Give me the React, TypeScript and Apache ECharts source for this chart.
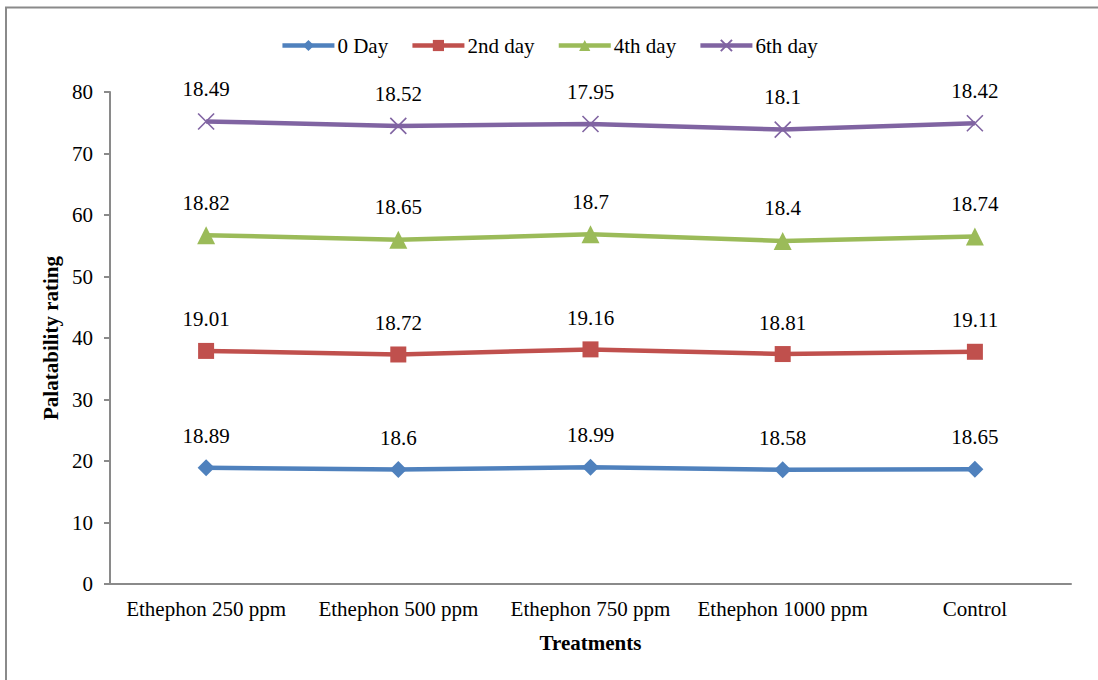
import React, { useEffect, useRef } from "react";
import * as echarts from "echarts";

const treatments = [
  "Ethephon 250 ppm",
  "Ethephon 500 ppm",
  "Ethephon 750 ppm",
  "Ethephon 1000 ppm",
  "Control",
];
const day0 = [18.89, 18.6, 18.99, 18.58, 18.65];
const day2 = [19.01, 18.72, 19.16, 18.81, 19.11];
const day4 = [18.82, 18.65, 18.7, 18.4, 18.74];
const day6 = [18.49, 18.52, 17.95, 18.1, 18.42];
const yTicks = { min: 0, max: 80, interval: 10 };

const FONT = '"Liberation Serif", "Times New Roman", serif';
const FS = 21;
const crossPath = "path://M0,0L10,10M10,0L0,10";

function makeSeries(name: string, data: number[], color: string, symbol: string, symbolSize: number, cross = false) {
  return {
    name,
    type: "line",
    stack: "total",
    data,
    symbol,
    symbolSize,
    showAllSymbol: true,
    lineStyle: { color, width: 4.5 },
    itemStyle: cross
      ? { color: "rgba(0,0,0,0)", borderColor: color, borderWidth: 1.6 }
      : { color, borderColor: color, borderWidth: 0 },
    emphasis: { disabled: true },
    label: {
      show: true,
      position: "top",
      distance: 13,
      color: "#000",
      fontFamily: FONT,
      fontSize: FS,
    },
  };
}

export default function App() {
  const ref = useRef<HTMLDivElement>(null);

  useEffect(() => {
    document.body.style.margin = "0";
    const chart = echarts.init(ref.current!, null, { renderer: "svg" });
    chart.setOption({
      animation: false,
      backgroundColor: "#fff",
      textStyle: { fontFamily: FONT, color: "#000" },
      graphic: [
        {
          type: "rect",
          shape: { x: 6, y: 7.5, width: 1200, height: 800 },
          style: { fill: "none", stroke: "#8a8a8a", lineWidth: 2 },
          silent: true,
        },
      ],
      legend: {
        top: 30,
        left: "center",
        itemWidth: 52,
        itemHeight: 14,
        itemGap: 22,
        lineStyle: { width: 4.5 },
        textStyle: { fontFamily: FONT, fontSize: FS, color: "#000", padding: [0, 0, 0, -2] },
        data: ["0 Day", "2nd day", "4th day", "6th day"],
      },
      grid: { left: 110, right: 27, top: 92, bottom: 96, containLabel: false },
      xAxis: {
        type: "category",
        data: treatments,
        boundaryGap: true,
        name: "Treatments",
        nameLocation: "middle",
        nameGap: 48,
        nameTextStyle: { fontFamily: FONT, fontSize: FS, fontWeight: "bold", color: "#000" },
        axisLine: { lineStyle: { color: "#8a8a8a", width: 2 } },
        axisTick: { show: false },
        axisLabel: { fontFamily: FONT, fontSize: FS, color: "#000", margin: 14, interval: 0 },
      },
      yAxis: {
        type: "value",
        min: yTicks.min,
        max: yTicks.max,
        interval: yTicks.interval,
        name: "Palatability rating",
        nameLocation: "middle",
        nameGap: 48,
        nameTextStyle: { fontFamily: FONT, fontSize: FS, fontWeight: "bold", color: "#000" },
        axisLine: { show: true, lineStyle: { color: "#8a8a8a", width: 2 } },
        axisTick: { show: true, length: 6, lineStyle: { color: "#8a8a8a", width: 2 } },
        splitLine: { show: false },
        axisLabel: { fontFamily: FONT, fontSize: FS, color: "#000", margin: 17 },
      },
      series: [
        makeSeries("0 Day", day0, "#4F81BD", "diamond", 17),
        makeSeries("2nd day", day2, "#C0504D", "rect", 16),
        makeSeries("4th day", day4, "#9BBB59", "triangle", 18),
        makeSeries("6th day", day6, "#8064A2", crossPath, 16, true),
      ],
    });
    return () => chart.dispose();
  }, []);

  return <div ref={ref} style={{ width: 1098, height: 680 }} />;
}
